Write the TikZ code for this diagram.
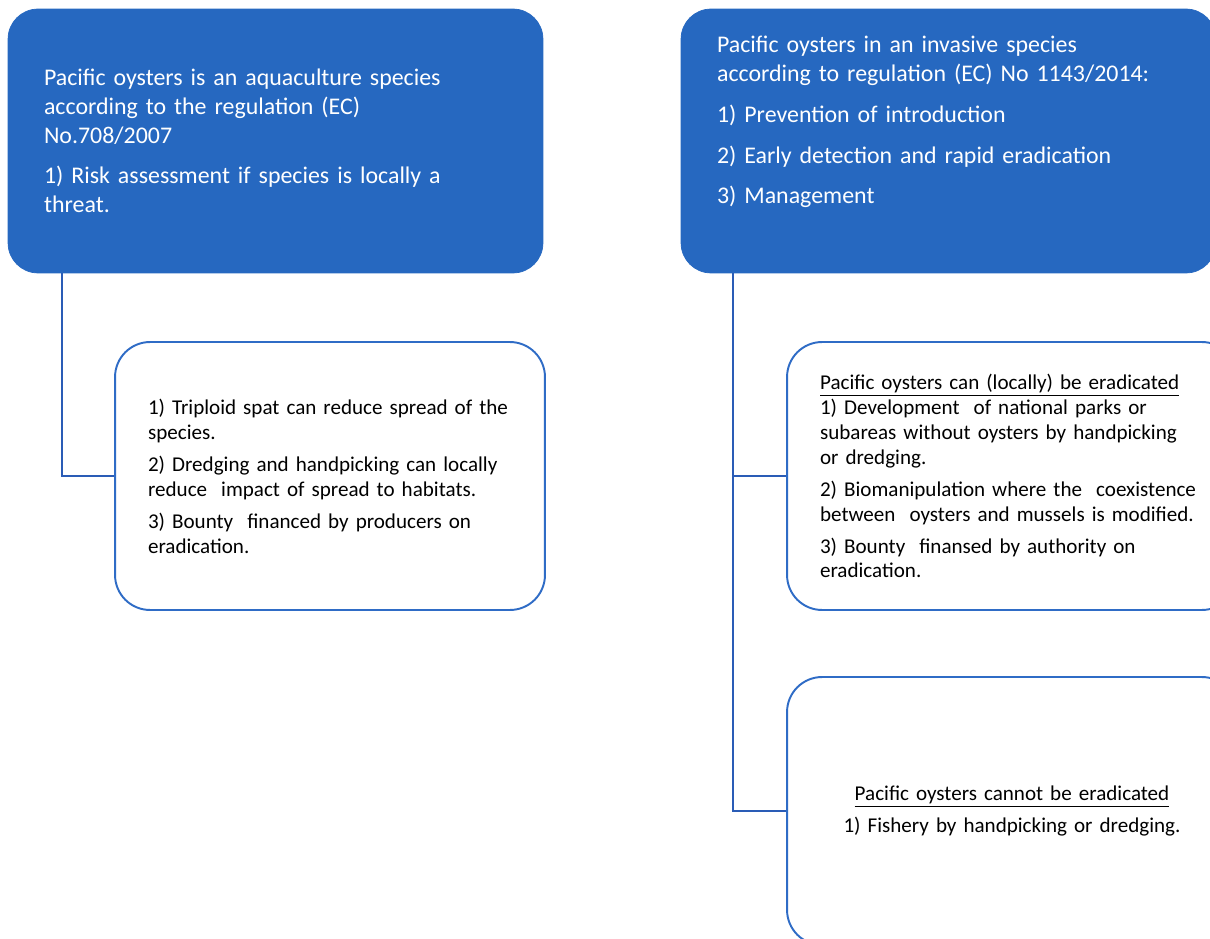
\documentclass[tikz,border=0pt]{standalone}
\usepackage{fontspec}
\setmainfont{Carlito}
\usepackage{tikz}
\usetikzlibrary{positioning}
\definecolor{oysterblue}{RGB}{38,104,192}
\definecolor{edgeblue}{RGB}{47,108,198}
\definecolor{linkblue}{RGB}{42,92,182}

\begin{document}
\begin{tikzpicture}[x=0.02cm,y=-0.02cm,
  headbox/.style={fill=oysterblue,draw=oysterblue,rounded corners=0.6cm,
    minimum width=10.7cm,minimum height=5.28cm,text=white,align=left,
    inner xsep=0.72cm,text width=9.26cm,
    font=\fontsize{13.6}{16.4}\selectfont},
  measurebox/.style={fill=white,draw=edgeblue,line width=1.1pt,rounded corners=0.7cm,
    minimum height=5.36cm,align=left,inner xsep=0.66cm,
    font=\fontsize{12}{14.2}\selectfont},
  link/.style={draw=linkblue,line width=1.1pt}]
  \useasboundingbox (0,0) rectangle (1210,939);
  \clip (0,0) rectangle (1210,939);
  \node[headbox] (aqua) at (275.5,141) {Pacific oysters is an aquaculture species\\
    according to the regulation (EC)\\
    No.708/2007\\[6.8pt]
    1) Risk assessment if species is locally a\\
    threat.};
  \node[headbox] (invasive) at (948.5,141) {Pacific oysters in an invasive species\\
    according to regulation (EC) No 1143/2014:\\[6.8pt]
    1) Prevention of introduction\\[6.8pt]
    2) Early detection and rapid eradication\\[6.8pt]
    3) Management\\[7.4pt]\mbox{}};
  \node[measurebox,minimum width=8.6cm,text width=7.28cm] (spat) at (330,476)
    {1) Triploid spat can reduce spread of the\\
    species.\\[4pt]
    2) Dredging and handpicking can locally\\
    reduce\ \ impact of spread to habitats.\\[4pt]
    3) Bounty\ \ financed by producers on\\
    eradication.};
  \node[measurebox,minimum width=9cm,text width=7.68cm] (canerad) at (1012,476)
    {\underline{Pacific oysters can (locally) be eradicated}\\
    1) Development\ \ of national parks or\\
    subareas without oysters by handpicking\\
    or dredging.\\[4pt]
    2) Biomanipulation where the\ \ coexistence\\
    between\ \ oysters and mussels is modified.\\[4pt]
    3) Bounty\ \ finansed by authority on\\
    eradication.};
  \node[measurebox,minimum width=9cm,text width=7.68cm,align=center] (cannot) at (1012,811)
    {\underline{Pacific oysters cannot be eradicated}\\[4pt]
    1) Fishery by handpicking or dredging.};
  \draw[link] ([xshift=1.08cm]aqua.south west) |- (spat.west);
  \draw[link] ([xshift=1.04cm]invasive.south west) |- (canerad.west);
  \draw[link] ([xshift=1.04cm]invasive.south west) |- (cannot.west);
\end{tikzpicture}
\end{document}
